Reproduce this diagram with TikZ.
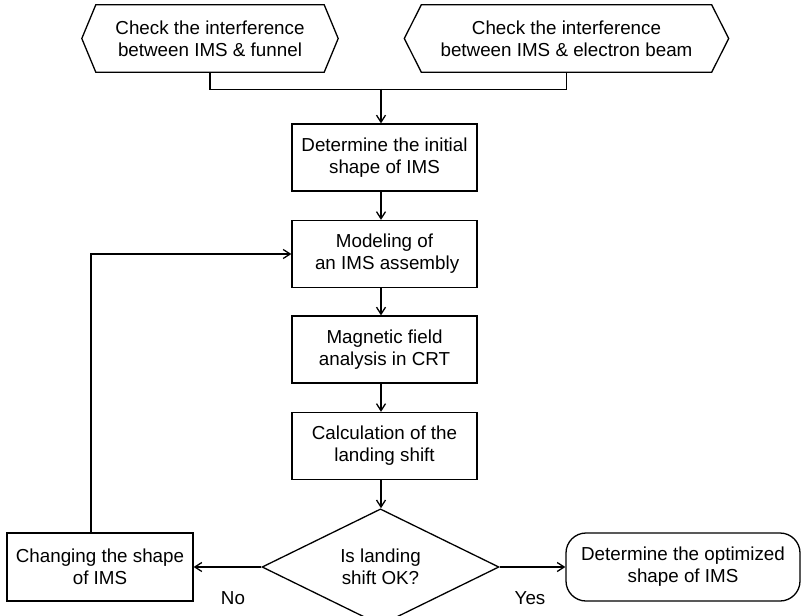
\documentclass[tikz,border=0pt]{standalone}
\usepackage{fontspec}
\setmainfont{Liberation Sans}
\usetikzlibrary{shapes.geometric,arrows.meta,calc}
\begin{document}
\begin{tikzpicture}[x=1pt,y=-1pt,
  every node/.style={font=\fontsize{18.8}{22}\selectfont, align=center, inner sep=0pt},
  conn/.style={line width=1.3pt},
  arr/.style={line width=1.3pt, -{Straight Barb[length=7pt,width=9pt,line width=1.3pt]}},
  procbox/.style={draw, line width=1.3pt, minimum width=185pt, minimum height=67pt},
  hexbox/.style={minimum height=67pt},
  decbox/.style={draw, diamond, line width=1.3pt, minimum width=237pt, minimum height=96pt},
  termbox/.style={draw, line width=1.3pt, rounded corners=20pt, minimum width=234pt, minimum height=68pt},
  lbl/.style={font=\fontsize{18.8}{22}\selectfont}
]
\useasboundingbox (0,0) rectangle (802,615);

% hexagons
\node[hexbox, minimum width=228pt] (h1) at (210,38.5) {Check the interference\\between IMS \& funnel};
\node[hexbox, minimum width=290pt] (h2) at (566.5,38.5) {Check the interference\\between IMS \& electron beam};
\draw[conn] (h1.north west) -- (h1.north east) -- ([xshift=14pt]h1.east) -- (h1.south east) -- (h1.south west) -- ([xshift=-14pt]h1.west) -- cycle;
\draw[conn] (h2.north west) -- (h2.north east) -- ([xshift=17pt]h2.east) -- (h2.south east) -- (h2.south west) -- ([xshift=-17pt]h2.west) -- cycle;

% process boxes
\node[procbox] (b1) at (384.5,157.5) {Determine the initial\\shape of IMS};
\node[procbox] (b2) at (384.5,254) {Modeling of\\\ an IMS assembly};
\node[procbox] (b3) at (384.5,349.5) {Magnetic field\\analysis in CRT};
\node[procbox] (b4) at (384.5,446) {Calculation of the\\landing shift};

% decision
\node[decbox] (d) at (380.5,567) {Is landing\\shift OK?};

% side boxes
\node[procbox, minimum width=186pt, minimum height=68pt] (lb) at (100,567) {Changing the shape\\of IMS};
\node[termbox] (rb) at (683,567) {Determine the optimized\\shape of IMS};

% connectors
\coordinate (j) at (381,89);
\draw[conn] (h1.south) -- ++(0,17) -| (h2.south);
\draw[arr] (j) -- (b1.north -| j);
\draw[arr] (b1.south -| j) -- (b2.north -| j);
\draw[arr] (b2.south -| j) -- (b3.north -| j);
\draw[arr] (b3.south -| j) -- (b4.north -| j);
\draw[arr] (b4.south -| j) -- (d.north -| j);
\draw[arr] (d.west) -- (lb.east);
\draw[arr] (d.east) -- (rb.west);
\draw[arr] ([xshift=-9pt]lb.north) |- (b2.west);

% labels
\node[lbl] (no) at (233,598) {No};
\node[lbl] (yes) at (530,598) {Yes};
\end{tikzpicture}
\end{document}
